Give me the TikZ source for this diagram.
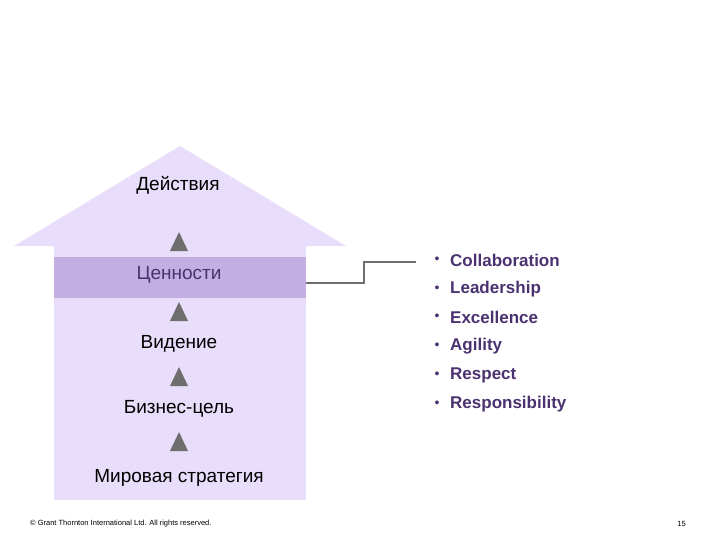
\documentclass[tikz,border=0pt]{standalone}
\usepackage{fontspec}
\setmainfont{Liberation Sans}
\definecolor{lav}{HTML}{E8DDFA}
\definecolor{band}{HTML}{C2AEE0}
\definecolor{purp}{HTML}{4A3270}
\definecolor{tri}{HTML}{6E6E6E}
\begin{document}
\begin{tikzpicture}[x=1pt,y=-1pt,
  lbl/.style={font=\fontsize{19}{22}\selectfont,inner sep=0},
  arr/.style={fill=tri},
  bul/.style={font=\bfseries\fontsize{17}{20}\selectfont,text=purp,anchor=west,inner sep=0}]
\useasboundingbox (0,0) rectangle (720,540);
\fill[lav] (54,246) rectangle (306,500);
\fill[lav] (14,246) -- (180,146) -- (346,246) -- cycle;
\fill[band] (54,257) rectangle (306,298);
\foreach \y in {232,302,367,432}{\fill[arr] (170,\y+19) -- (179,\y) -- (188,\y+19) -- cycle;}
\node[lbl] (a) at (178,185) {Действия};
\node[lbl,text=purp] (b) at (179,275) {Ценности};
\node[lbl] (c) at (179,344) {Видение};
\node[lbl] (d) at (179,409) {Бизнес-цель};
\node[lbl] (e) at (179,478) {Мировая стратегия};
\coordinate (s) at (306,283);
\coordinate (t) at (416,262);
\draw[tri,line width=1.3pt] (s) -- (364,283) -- (364,262) -- (t);
\foreach \t [count=\i] in {Collaboration,Leadership,Excellence,Agility,Respect,Responsibility}{
  \node[text=purp,font=\fontsize{14}{16}\selectfont,inner sep=0] (d\i) at (437,260+28.8*\i-28.8) {•};
  \node[bul] (v\i) at (450,260+28.8*\i-28.8) {\t};}
\node[anchor=west,inner sep=0,font=\fontsize{7.5}{9}\selectfont] (f) at (30,524) {© Grant Thornton International Ltd. All rights reserved.};
\node[anchor=east,inner sep=0,font=\fontsize{7.5}{9}\selectfont] (n) at (686,524) {15};
\end{tikzpicture}
\end{document}
